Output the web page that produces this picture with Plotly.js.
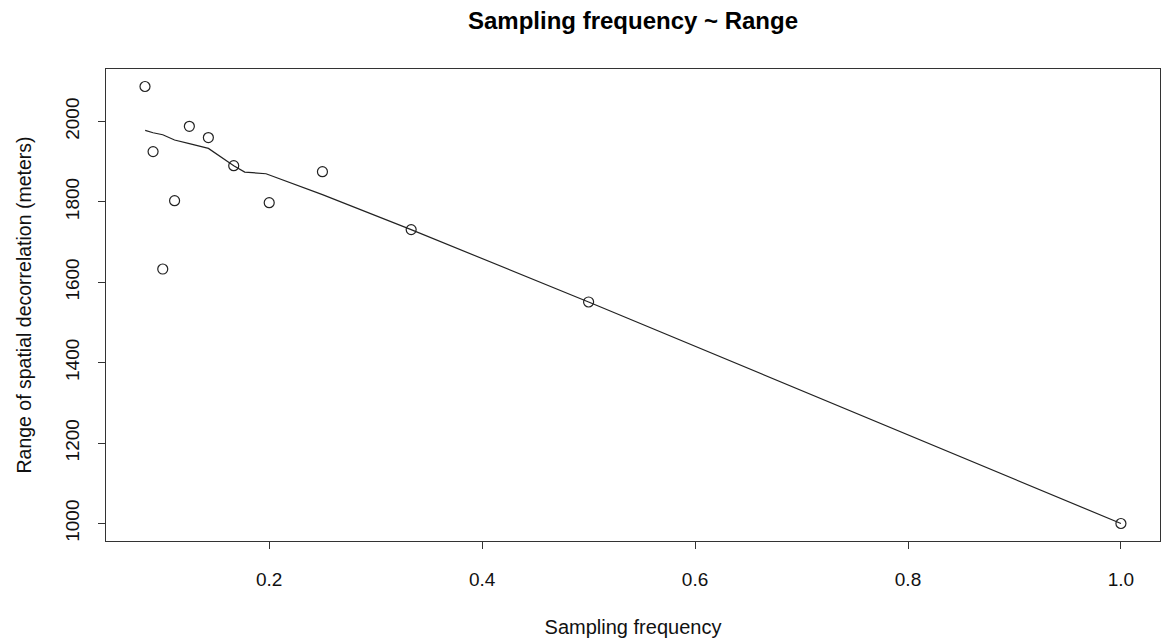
<!DOCTYPE html>
<html>
<head>
<meta charset="utf-8">
<script src="https://cdn.plot.ly/plotly-3.0.1.min.js"></script>
<style>html,body{margin:0;padding:0;background:#fff;}#chart{width:1161px;height:641px;}</style>
</head>
<body>
<div id="chart"></div>
<script>
// Observed points: sampling frequency vs range (m)
const freq = [1/12, 1/11, 1/10, 1/9, 1/8, 1/7, 1/6, 1/5, 1/4, 1/3, 1/2, 1];
const range = [2087, 1925, 1633, 1803, 1988, 1960, 1890, 1798, 1875, 1731, 1551, 1000];
// Smoothed curve vertices
const smoothX = [0.0835, 0.0909, 0.1, 0.1111, 0.125, 0.1429, 0.1667, 0.177, 0.197, 0.25, 0.3333, 0.5, 1.0];
const smoothY = [1978, 1972, 1967, 1954, 1945, 1933, 1890, 1874, 1870, 1818, 1731, 1551, 1000];
const xTicks = [0.2, 0.4, 0.6, 0.8, 1.0];
const xTickText = ["0.2", "0.4", "0.6", "0.8", "1.0"];
const yTicks = [1000, 1200, 1400, 1600, 1800, 2000];

const font = "Liberation Sans, Arial, Helvetica, sans-serif";
const traces = [
  {x: smoothX, y: smoothY, type: "scatter", mode: "lines", line: {color: "#222", width: 1.2}, hoverinfo: "skip"},
  {x: freq, y: range, type: "scatter", mode: "markers",
   marker: {symbol: "circle-open", size: 10, color: "#222", line: {width: 1.2, color: "#222"}}}
];
const layout = {
  width: 1161, height: 641,
  margin: {l: 106, r: 1, t: 69, b: 100},
  showlegend: false,
  paper_bgcolor: "#fff", plot_bgcolor: "#fff",
  font: {family: font, color: "#111", size: 19},
  title: {text: "Sampling frequency ~ Range", font: {family: font, size: 24, weight: "bold", color: "#000"},
          xref: "paper", x: 0.5, xanchor: "center", yref: "container", y: 1 - 21/641, yanchor: "middle"},
  xaxis: {range: [0.0467, 1.0367], tickvals: xTicks, ticktext: xTickText,
          showgrid: false, zeroline: false, showline: true, mirror: true, linecolor: "#333", linewidth: 1,
          ticks: "outside", ticklen: 7, tickcolor: "#333", tickfont: {size: 19},
          ticklabelstandoff: 14,
          title: {text: "Sampling frequency", font: {size: 20}, standoff: 31}},
  yaxis: {range: [956.5, 2130.5], tickvals: yTicks, tickangle: -90,
          showgrid: false, zeroline: false, showline: true, mirror: true, linecolor: "#333", linewidth: 1,
          ticks: "outside", ticklen: 7, tickcolor: "#333", tickfont: {size: 19},
          ticklabelstandoff: 11,
          title: {text: "Range of spatial decorrelation (meters)", font: {size: 19.5}, standoff: 25}}
};
Plotly.newPlot("chart", traces, layout, {staticPlot: true, displayModeBar: false});
</script>
</body>
</html>
